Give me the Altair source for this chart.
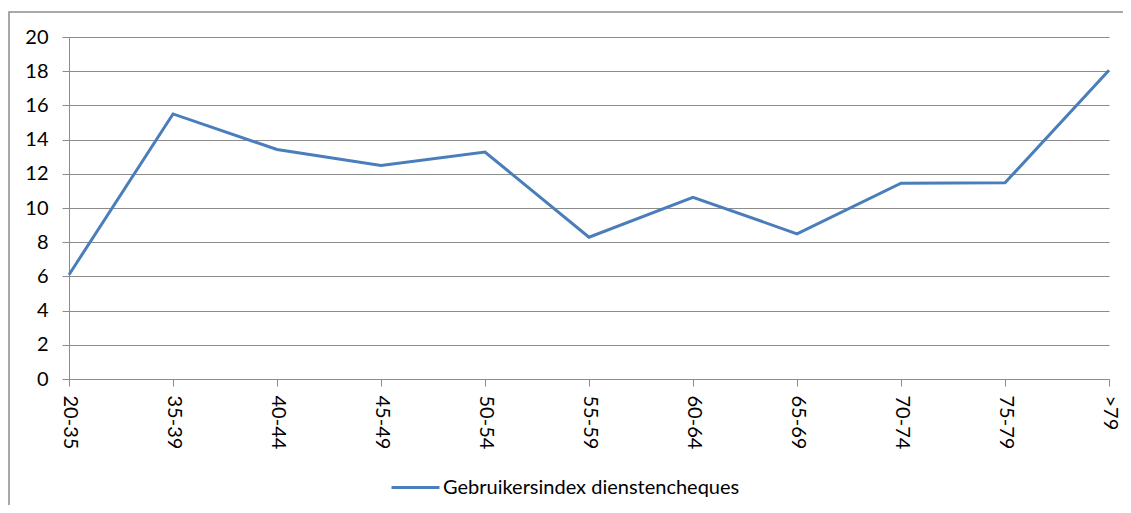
import altair as alt
import pandas as pd

categories = ["20-35", "35-39", "40-44", "45-49", "50-54", "55-59",
              "60-64", "65-69", "70-74", "75-79", ">79"]
values = [6.1, 15.5, 13.42, 12.49, 13.27, 8.29, 10.63, 8.49, 11.45, 11.47, 18.05]
series_name = "Gebruikersindex dienstencheques"
y_ticks = list(range(0, 21, 2))

df = pd.DataFrame({"cat": categories, "val": values, "series": series_name})

FONT = "Lato"
GRID = "#8c8c8c"

border = alt.Chart(pd.DataFrame({"a": [0]})).mark_rect(
    fillOpacity=0, stroke="#8c8c8c", strokeWidth=1.5
).encode(
    x=alt.value(-60), x2=alt.value(1200),
    y=alt.value(-25), y2=alt.value(600),
)

line = alt.Chart(df).mark_line(strokeWidth=3).encode(
    x=alt.X("cat:O", sort=categories,
            scale=alt.Scale(type="point", padding=0),
            axis=alt.Axis(title=None, labelAngle=90, labelAlign="left",
                          labelBaseline="middle", labelPadding=9,
                          tickSize=7, tickColor=GRID, domainColor=GRID,
                          labelFont=FONT, labelFontSize=20, labelColor="black",
                          grid=False)),
    y=alt.Y("val:Q", scale=alt.Scale(domain=[0, 20], nice=False),
            axis=alt.Axis(title=None, values=y_ticks, tickSize=7,
                          tickColor=GRID, domainColor=GRID, gridColor=GRID,
                          gridWidth=1.2, labelPadding=14, labelFont=FONT,
                          labelFontSize=20, labelColor="black")),
    color=alt.Color("series:N",
                    scale=alt.Scale(range=["#4a7ebb"]),
                    legend=alt.Legend(title=None, orient="none",
                                      legendX=321, legendY=425,
                                      symbolType="stroke", symbolSize=2300,
                                      symbolStrokeWidth=3, labelLimit=0,
                                      labelFont=FONT, labelFontSize=20,
                                      labelColor="black", labelOffset=2)),
)

chart = alt.layer(border, line).properties(
    width=1040, height=342,
    autosize=alt.AutoSizeParams(type="none"),
    padding={"left": 61, "top": 29, "right": 14, "bottom": 126},
).configure_view(stroke=None)

chart.save("out.html", embed_options={"renderer": "svg", "actions": False})
